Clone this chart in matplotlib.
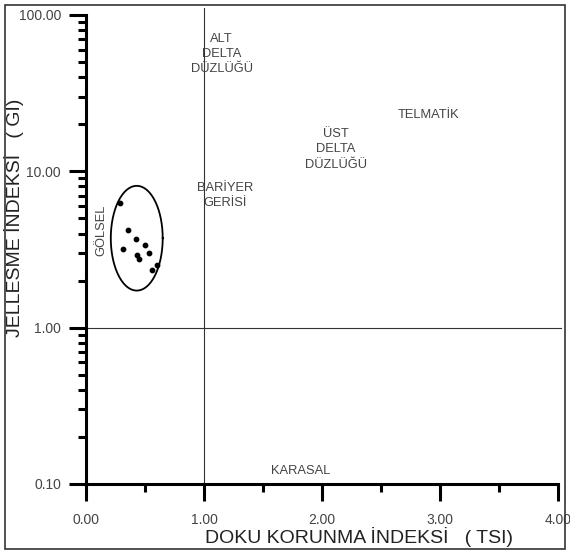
import numpy as np
import matplotlib.pyplot as plt
from matplotlib.patches import Rectangle
from matplotlib.ticker import FixedLocator, LogLocator, NullFormatter

plt.rcParams['font.family'] = ['Liberation Sans', 'DejaVu Sans']

# sample points (TSI, GI)
tsi = [0.29, 0.36, 0.42, 0.31, 0.50, 0.53, 0.43, 0.45, 0.60, 0.56]
gi = [6.3, 4.2, 3.7, 3.2, 3.4, 3.0, 2.9, 2.75, 2.5, 2.35]

# ellipse round the GÖLSEL group (centre x, half-width, log10 centre, log10 half-height)
ell_x, ell_w = 0.43, 0.22
ell_logy, ell_logh = 0.572, 0.335

# facies labels
labels = ["ALT\nDELTA\nDÜZLÜĞÜ", "ÜST\nDELTA\nDÜZLÜĞÜ", "TELMATİK", "BARİYER\nGERİSİ", "KARASAL"]
label_x = [1.15, 2.12, 2.90, 1.18, 1.82]
label_y = [56.0, 13.8, 23.0, 7.0, 0.121]

xticks = [0, 1, 2, 3, 4]
xticklabels = ["0.00", "1.00", "2.00", "3.00", "4.00"]
yticks = [0.1, 1, 10, 100]
yticklabels = ["0.10", "1.00", "10.00", "100.00"]

fig = plt.figure(figsize=(5.7, 5.54), dpi=100)
ax = fig.add_axes([0.1509, 0.1264, 0.828, 0.8466])

ax.set_yscale("log")
ax.set_xlim(0, 4)
ax.set_ylim(0.1, 100)

# divider lines
ax.axhline(1, color="#333333", lw=0.8, xmax=1.007, clip_on=False)
ax.plot([1, 1], [0.1, 111], color="#333333", lw=0.8, clip_on=False)

ax.scatter(tsi, gi, s=10, color="black", zorder=3)

t = np.linspace(0, 2 * np.pi, 200)
ax.plot(ell_x + ell_w * np.cos(t), 10 ** (ell_logy + ell_logh * np.sin(t)),
        color="black", lw=1.3)

for txt, x, y in zip(labels, label_x, label_y):
    ax.text(x, y, txt, ha="center", va="center", fontsize=9.3,
            color="#444444", linespacing=1.35)
ax.text(0.13, 4.2, "GÖLSEL", rotation=90, ha="center", va="center",
        fontsize=9.3, color="#444444")

for s in ["top", "right"]:
    ax.spines[s].set_visible(False)
for s in ["left", "bottom"]:
    ax.spines[s].set_linewidth(2.2)

ax.xaxis.set_major_locator(FixedLocator(xticks))
ax.set_xticklabels(xticklabels)
ax.xaxis.set_minor_locator(FixedLocator([0.5, 1.5, 2.5, 3.5]))
ax.yaxis.set_major_locator(FixedLocator(yticks))
ax.set_yticklabels(yticklabels)
ax.yaxis.set_minor_locator(LogLocator(base=10, subs=np.arange(2, 10)))
ax.yaxis.set_minor_formatter(NullFormatter())

ax.tick_params(which="major", length=12, width=2.2, direction="out",
               labelsize=10, labelcolor="#444444", pad=6)
ax.tick_params(which="minor", length=6, width=2.2, direction="out")
ax.tick_params(axis="x", which="major", pad=9)

ax.set_xlabel("DOKU KORUNMA İNDEKSİ   ( TSI)", fontsize=14, color="#222222",
              va="center", ha="center")
ax.xaxis.set_label_coords(0.578, -0.113)
ax.set_ylabel("JELLESME İNDEKSİ   ( GI)", fontsize=14, color="#222222",
              va="center", ha="center")
ax.yaxis.set_label_coords(-0.152, 0.567)

# frame round the whole figure
fig.patches.append(Rectangle((0.009, 0.009), 0.982, 0.982, transform=fig.transFigure,
                             fill=False, lw=1.2, edgecolor="#333333"))

fig.savefig("out.png", dpi=100)
